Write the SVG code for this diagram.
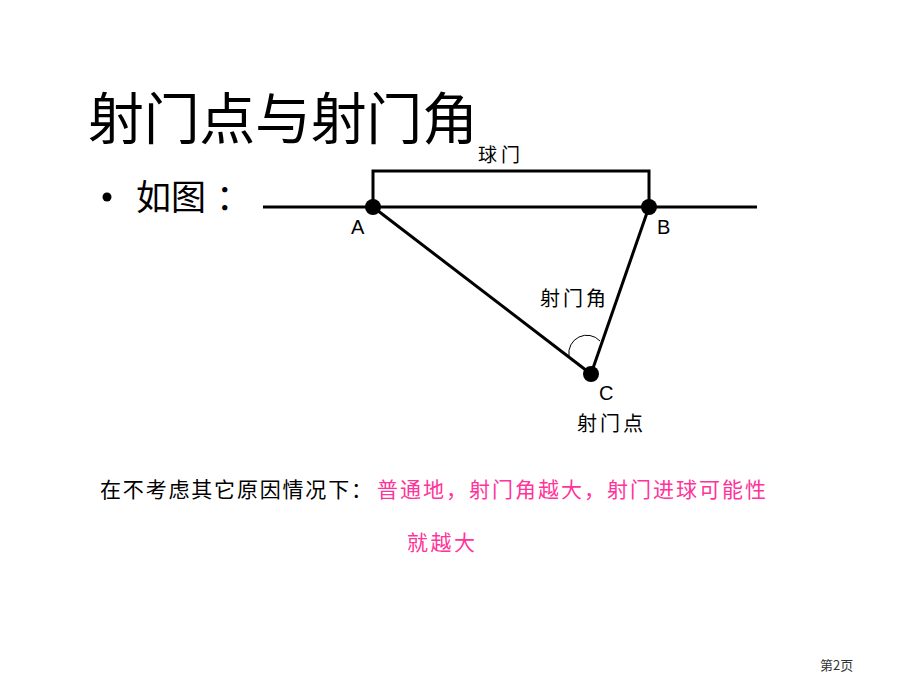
<svg xmlns="http://www.w3.org/2000/svg" width="920" height="690" viewBox="0 0 920 690">
<style>
.cjk{font-family:"Noto Sans CJK SC","Liberation Sans",sans-serif;}
.lat{font-family:"Liberation Sans",Arial,sans-serif;}
.ln{stroke:#000;stroke-width:3;fill:none;}
.dot{fill:#000;}
.pink{fill:#FF3399;}
</style>
<rect width="920" height="690" fill="#fff"/>
<g id="title"><text class="cjk" x="88" y="139" font-size="56" fill="#000" textLength="390" lengthAdjust="spacing">射门点与射门角</text></g>
<g id="bullet"><circle cx="107" cy="197" r="4.5" fill="#000"/><text class="cjk" x="136" y="210" font-size="35" fill="#000">如图<tspan x="216">：</tspan></text></g>
<g id="connectors">
<line class="ln" x1="263" y1="207" x2="757" y2="207"/>
<polyline class="ln" points="373,207 373,171 649,171 649,207"/>
<line class="ln" x1="373" y1="207" x2="591" y2="374"/>
<line class="ln" x1="649" y1="207" x2="591" y2="374"/>
<path d="M569,356 A18,18 0 0 1 600,341" stroke="#000" stroke-width="1" fill="none"/>
</g>
<g id="nodeA"><circle class="dot" cx="373" cy="207" r="8"/><text class="lat" x="351" y="234" font-size="20" fill="#000">A</text></g>
<g id="nodeB"><circle class="dot" cx="649" cy="207" r="8"/><text class="lat" x="657" y="234" font-size="20" fill="#000">B</text></g>
<g id="nodeC"><circle class="dot" cx="591" cy="374" r="8"/><text class="lat" x="599" y="400" font-size="20" fill="#000">C</text><text class="cjk" x="577" y="431" font-size="20" fill="#000" textLength="66" lengthAdjust="spacing">射门点</text></g>
<g id="goal-label"><text class="cjk" x="478" y="162" font-size="19" fill="#000" textLength="42" lengthAdjust="spacing">球门</text></g>
<g id="angle-label"><text class="cjk" x="540" y="306" font-size="20" fill="#000" textLength="66" lengthAdjust="spacing">射门角</text></g>
<g id="caption">
<text class="cjk" x="100" y="497" font-size="21" fill="#000" textLength="272" lengthAdjust="spacing">在不考虑其它原因情况下：</text>
<text class="cjk pink" x="377" y="497" font-size="21" textLength="389" lengthAdjust="spacing">普通地，射门角越大，射门进球可能性</text>
<text class="cjk pink" x="407" y="550" font-size="21" textLength="68" lengthAdjust="spacing">就越大</text>
</g>
<g id="page"><text class="cjk" x="820" y="670" font-size="13" fill="#333">第2页</text></g>
</svg>
